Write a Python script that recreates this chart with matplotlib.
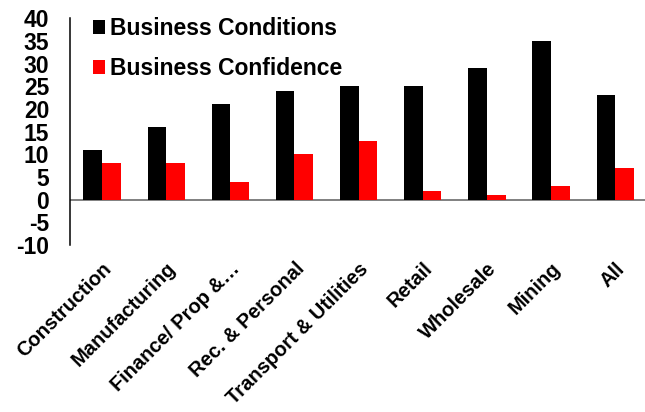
import matplotlib
matplotlib.use("Agg")
import matplotlib.pyplot as plt
import numpy as np

categories = ["Construction", "Manufacturing", "Finance/ Prop &…", "Rec. & Personal",
              "Transport & Utilities", "Retail", "Wholesale", "Mining", "All"]
conditions = [11, 16, 21, 24, 25, 25, 29, 35, 23]
confidence = [8, 8, 4, 10, 13, 2, 1, 3, 7]
yticks = [-10, -5, 0, 5, 10, 15, 20, 25, 30, 35, 40]

plt.rcParams["font.family"] = ["Liberation Sans", "DejaVu Sans"]
plt.rcParams["font.weight"] = "bold"

fig = plt.figure(figsize=(6.45, 4.12), dpi=100)
ax = fig.add_axes([0.1085, 0.405, 0.895, 0.551])

x = np.arange(len(categories))
w = 0.29
ax.bar(x - w / 2, conditions, w, color="#000000", label="Business Conditions", zorder=2)
ax.bar(x + w / 2, confidence, w, color="#FF0000", label="Business Confidence", zorder=2)

ax.set_xlim(-0.5, len(categories) - 0.5)
ax.set_ylim(-10, 40)
ax.set_yticks(yticks)
ax.set_yticklabels([str(v) for v in yticks], fontsize=16.5, fontweight="bold")
ax.tick_params(axis="y", length=0, pad=15)
ax.tick_params(axis="x", length=0, pad=10)
ax.set_xticks(x)
ax.set_xticklabels(categories, rotation=45, ha="right", rotation_mode="anchor",
                   fontsize=14.5, fontweight="bold")

for s in ["top", "right", "bottom"]:
    ax.spines[s].set_visible(False)
ax.spines["left"].set_color("#000000")
ax.spines["left"].set_linewidth(1.1)
ax.axhline(0, color="#808080", linewidth=1.4, zorder=1)

ax.legend(loc="upper left", bbox_to_anchor=(0.024, 1.045), borderaxespad=0,
          frameon=False, prop={"size": 16.5, "weight": "bold"},
          handlelength=0.52, handleheight=0.52, handletextpad=0.22,
          labelspacing=0.74)

fig.savefig("out.png", dpi=100)
